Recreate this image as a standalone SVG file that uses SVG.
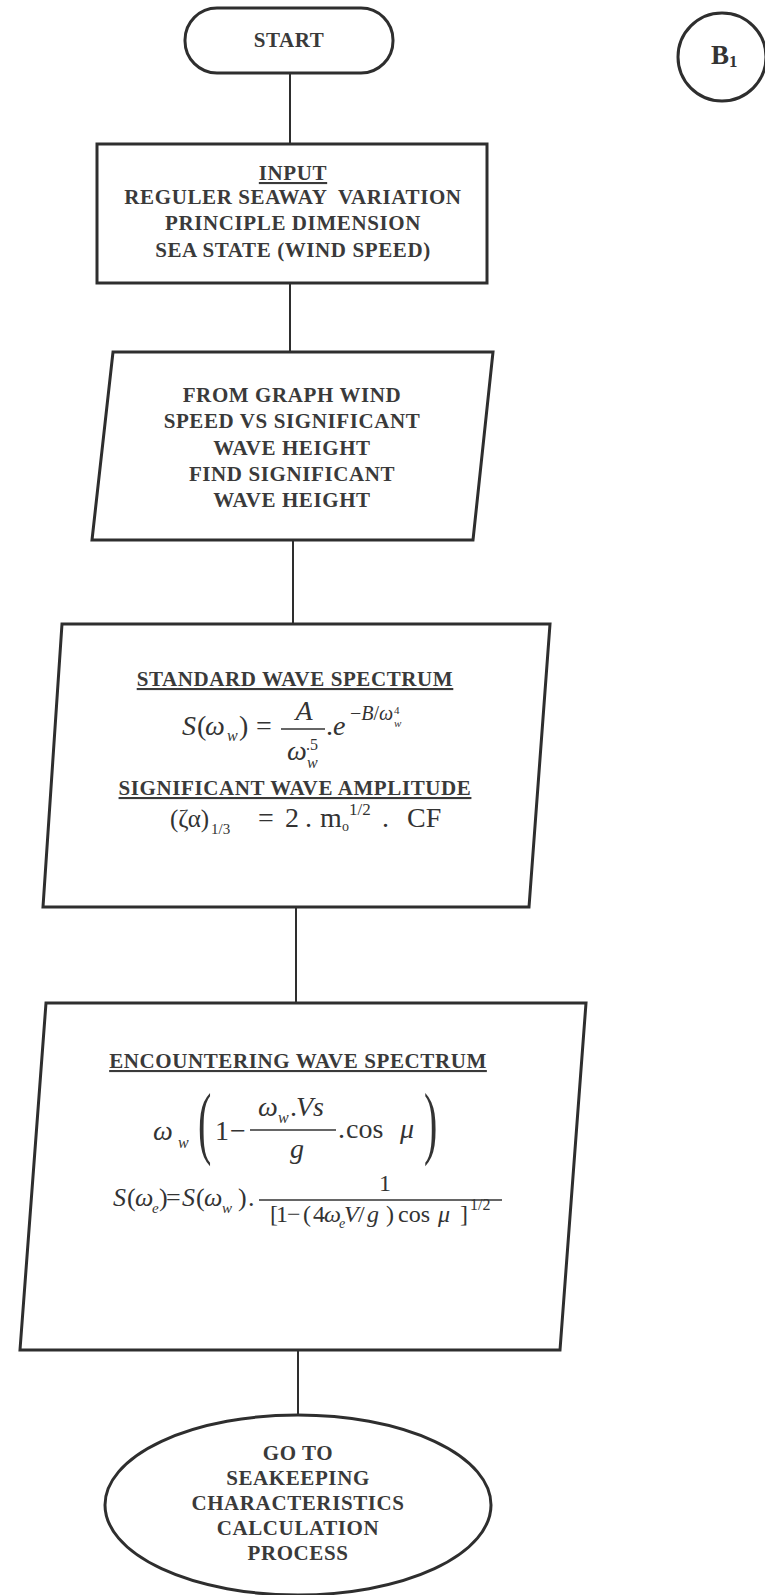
<svg xmlns="http://www.w3.org/2000/svg" width="765" height="1595" viewBox="0 0 765 1595">
<style>
.box{fill:#fff;stroke:#2e2e2e;stroke-width:3;stroke-linejoin:miter}
.conn{stroke:#2e2e2e;stroke-width:2;fill:none}
.bar{stroke:#333;stroke-width:1.3}
.t{font-family:"Liberation Serif",serif;font-weight:bold;font-size:21px;fill:#3a3a3a;letter-spacing:0.6px;text-anchor:middle}
.u{text-decoration:underline}
.mi{font-family:"Liberation Serif",serif;font-style:italic;fill:#333}
.mr{font-family:"Liberation Serif",serif;font-style:normal;fill:#333}
</style>
<rect width="765" height="1595" fill="#fff"/>
<g id="connectors">
<line class="conn" x1="290" y1="73" x2="290" y2="144"/>
<line class="conn" x1="290" y1="283" x2="290" y2="352"/>
<line class="conn" x1="293" y1="540" x2="293" y2="624"/>
<line class="conn" x1="296" y1="907" x2="296" y2="1003"/>
<line class="conn" x1="298" y1="1350" x2="298" y2="1415"/>
</g>
<g id="start">
<rect class="box" x="185" y="8" width="208" height="65" rx="32" ry="32"/>
<text class="t" x="289" y="47">START</text>
</g>
<g id="b1">
<circle class="box" cx="722" cy="57" r="44"/>
<text class="mr" x="711" y="64" font-size="27" font-weight="bold" fill="#333">B<tspan font-size="17" dy="3">1</tspan></text>
</g>
<g id="input">
<rect class="box" x="97" y="144" width="390" height="139"/>
<text class="t u" x="293" y="180">INPUT</text>
<text class="t" x="293" y="204" xml:space="preserve">REGULER SEAWAY  VARIATION</text>
<text class="t" x="293" y="230">PRINCIPLE DIMENSION</text>
<text class="t" x="293" y="257">SEA STATE (WIND SPEED)</text>
</g>
<g id="graph">
<polygon class="box" points="113,352 493,352 473,540 92,540"/>
<text class="t" x="292" y="402">FROM GRAPH WIND</text>
<text class="t" x="292" y="428">SPEED VS SIGNIFICANT</text>
<text class="t" x="292" y="455">WAVE HEIGHT</text>
<text class="t" x="292" y="481">FIND SIGNIFICANT</text>
<text class="t" x="292" y="507">WAVE HEIGHT</text>
</g>
<g id="standard">
<polygon class="box" points="62,624 550,624 529,907 43,907"/>
<text class="t u" x="295" y="686">STANDARD WAVE SPECTRUM</text>
<text class="mi" x="182" y="735" font-size="28">S</text>
<text class="mr" x="197" y="735" font-size="28">(</text>
<text class="mi" x="205" y="735" font-size="28">ω</text>
<text class="mi" x="227" y="741" font-size="16">w</text>
<text class="mr" x="239" y="735" font-size="28">)</text>
<text class="mr" x="256" y="735" font-size="28">=</text>
<line class="bar" x1="281" y1="729" x2="325" y2="729"/>
<text class="mi" x="304" y="720" font-size="28" text-anchor="middle">A</text>
<text class="mi" x="287" y="760" font-size="28">ω</text>
<text class="mr" x="306" y="750" font-size="16">.5</text>
<text class="mi" x="307" y="768" font-size="16">w</text>
<text class="mr" x="326" y="735" font-size="28">.</text>
<text class="mi" x="333" y="735" font-size="28">e</text>
<text class="mr" x="350" y="720" font-size="20">−<tspan class="mi">B</tspan>/<tspan class="mi">ω</tspan></text>
<text class="mr" x="394" y="714" font-size="11">4</text>
<text class="mi" x="394" y="727" font-size="11">w</text>
<text class="t u" x="295" y="795">SIGNIFICANT WAVE AMPLITUDE</text>
<text class="mr" x="170" y="827" font-size="25">(ζα)</text>
<text class="mr" x="211" y="834" font-size="15">1/3</text>
<text class="mr" x="258" y="827" font-size="28">=</text>
<text class="mr" x="285" y="827" font-size="28">2</text>
<text class="mr" x="305" y="827" font-size="28">.</text>
<text class="mr" x="320" y="827" font-size="28">m</text>
<text class="mr" x="342" y="831" font-size="14">o</text>
<text class="mr" x="349" y="815" font-size="17">1/2</text>
<text class="mr" x="382" y="827" font-size="28">.</text>
<text class="mr" x="407" y="827" font-size="28">CF</text>
</g>
<g id="encountering">
<polygon class="box" points="46,1003 586,1003 560,1350 20,1350"/>
<text class="t u" x="298" y="1068">ENCOUNTERING WAVE SPECTRUM</text>
<text class="mi" x="153" y="1140" font-size="28">ω</text>
<text class="mi" x="178" y="1148" font-size="16">w</text>
<text class="mr" transform="translate(198,1149) scale(1,2)" font-size="40">(</text>
<text class="mr" x="215" y="1140" font-size="28">1</text>
<text class="mr" x="230" y="1140" font-size="28">−</text>
<line class="bar" x1="250" y1="1130" x2="336" y2="1130"/>
<text class="mi" x="258" y="1116" font-size="28">ω</text>
<text class="mi" x="278" y="1123" font-size="16">w</text>
<text class="mr" x="290" y="1116" font-size="28">.</text>
<text class="mi" x="296" y="1116" font-size="28">Vs</text>
<text class="mi" x="297" y="1158" font-size="28" text-anchor="middle">g</text>
<text class="mr" x="338" y="1138" font-size="28">.</text>
<text class="mr" x="346" y="1138" font-size="28">cos</text>
<text class="mi" x="400" y="1138" font-size="28">μ</text>
<text class="mr" transform="translate(424,1149) scale(1,2)" font-size="40">)</text>
<text class="mi" x="113" y="1206" font-size="26">S</text>
<text class="mr" x="127" y="1206" font-size="26">(</text>
<text class="mi" x="135" y="1206" font-size="26">ω</text>
<text class="mi" x="152" y="1213" font-size="15">e</text>
<text class="mr" x="159" y="1206" font-size="26">)</text>
<text class="mr" x="166" y="1206" font-size="26">=</text>
<text class="mi" x="182" y="1206" font-size="26">S</text>
<text class="mr" x="196" y="1206" font-size="26">(</text>
<text class="mi" x="204" y="1206" font-size="26">ω</text>
<text class="mi" x="222" y="1213" font-size="15">w</text>
<text class="mr" x="238" y="1206" font-size="26">)</text>
<text class="mr" x="248" y="1206" font-size="26">.</text>
<line class="bar" x1="259" y1="1200" x2="502" y2="1200"/>
<text class="mr" x="385" y="1191" font-size="24" text-anchor="middle">1</text>
<text class="mr" x="270" y="1222" font-size="24">[</text>
<text class="mr" x="276" y="1222" font-size="24">1</text>
<text class="mr" x="287" y="1222" font-size="24">−</text>
<text class="mr" x="303" y="1222" font-size="24">(</text>
<text class="mr" x="313" y="1222" font-size="24">4</text>
<text class="mi" x="324" y="1222" font-size="24">ω</text>
<text class="mi" x="339" y="1228" font-size="14">e</text>
<text class="mi" x="344" y="1222" font-size="24">V</text>
<text class="mr" x="358" y="1222" font-size="24">/</text>
<text class="mi" x="367" y="1222" font-size="24">g</text>
<text class="mr" x="386" y="1222" font-size="24">)</text>
<text class="mr" x="398" y="1222" font-size="24">cos</text>
<text class="mi" x="438" y="1222" font-size="24">μ</text>
<text class="mr" x="460" y="1222" font-size="24">]</text>
<text class="mr" x="470" y="1210" font-size="16">1/2</text>
</g>
<g id="goto">
<ellipse class="box" cx="298" cy="1505" rx="193" ry="90"/>
<text class="t" x="298" y="1460">GO TO</text>
<text class="t" x="298" y="1485">SEAKEEPING</text>
<text class="t" x="298" y="1510">CHARACTERISTICS</text>
<text class="t" x="298" y="1535">CALCULATION</text>
<text class="t" x="298" y="1560">PROCESS</text>
</g>
</svg>
